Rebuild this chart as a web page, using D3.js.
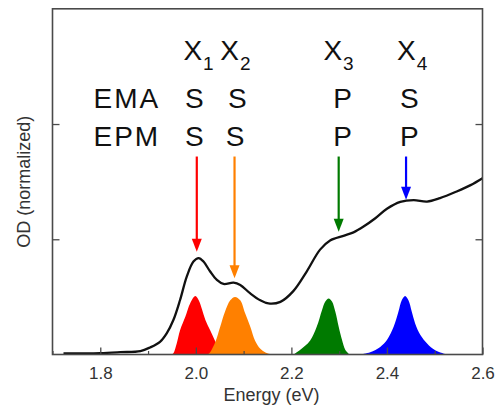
<!DOCTYPE html>
<html>
<head>
<meta charset="utf-8">
<script src="https://cdn.jsdelivr.net/npm/d3@7"></script>
<style>
  html, body { margin: 0; padding: 0; background: #fff; }
  svg { display: block; font-family: "Liberation Sans", Arial, Helvetica, sans-serif; }
</style>
</head>
<body>
<svg id="chart" width="498" height="408"></svg>
<script>
// Absorption spectrum (OD, normalized) vs photon energy
const spectrumE  = [1.723, 1.76, 1.80, 1.842, 1.884, 1.904, 1.925, 1.939, 1.953, 1.967, 1.981, 1.995, 2.006, 2.016, 2.030, 2.044, 2.058, 2.079, 2.093, 2.114, 2.135, 2.152, 2.177, 2.204, 2.232, 2.260, 2.281, 2.309, 2.330, 2.351, 2.375, 2.400, 2.428, 2.456, 2.484, 2.511, 2.546, 2.575, 2.6];
const spectrumOD = [0.010, 0.010, 0.012, 0.020, 0.030, 0.061, 0.110, 0.183, 0.299, 0.473, 0.676, 0.807, 0.837, 0.807, 0.720, 0.647, 0.612, 0.623, 0.603, 0.530, 0.470, 0.443, 0.457, 0.550, 0.720, 0.910, 0.990, 1.030, 1.060, 1.110, 1.180, 1.265, 1.325, 1.340, 1.327, 1.357, 1.415, 1.470, 1.530];

// Exciton transition distributions X1..X4
const x1E  = [1.950, 1.953, 1.960, 1.967, 1.978, 1.988, 1.999, 2.006, 2.013, 2.020, 2.030, 2.041, 2.051];
const x1OD = [0.000, 0.010, 0.096, 0.210, 0.327, 0.443, 0.507, 0.470, 0.390, 0.300, 0.210, 0.110, 0.000];
const x2E  = [2.025, 2.030, 2.041, 2.051, 2.061, 2.072, 2.082, 2.093, 2.103, 2.114, 2.124, 2.135, 2.145, 2.158];
const x2OD = [0.000, 0.020, 0.110, 0.240, 0.370, 0.470, 0.500, 0.470, 0.360, 0.240, 0.120, 0.050, 0.020, 0.000];
const x3E  = [2.204, 2.218, 2.239, 2.253, 2.264, 2.271, 2.278, 2.285, 2.292, 2.299, 2.306, 2.313, 2.322];
const x3OD = [0.000, 0.040, 0.120, 0.240, 0.385, 0.460, 0.487, 0.460, 0.370, 0.240, 0.125, 0.040, 0.000];
const x4E  = [2.344, 2.365, 2.386, 2.400, 2.414, 2.424, 2.431, 2.438, 2.445, 2.452, 2.459, 2.470, 2.484, 2.501, 2.525];
const x4OD = [0.000, 0.020, 0.066, 0.125, 0.240, 0.370, 0.470, 0.507, 0.470, 0.370, 0.270, 0.170, 0.096, 0.037, 0.000];
const excitonColors = ["#ff0000", "#ff8000", "#007a00", "#0000ff"];

// Arrows marking each transition on the spectrum
const arrowE    = [2.002, 2.081, 2.299, 2.440];
const arrowTop  = 1.718;
const arrowTip  = [0.892, 0.661, 1.066, 1.342];

// Labels: exciton names and symmetries from two models
const excitonSub = ["1", "2", "3", "4"];
const nameE      = [1.974, 2.051, 2.267, 2.421];
const emaSym     = ["S", "S", "P", "S"];
const emaE       = [1.997, 2.087, 2.307, 2.447];
const epmSym     = ["S", "S", "P", "P"];
const epmE       = [1.997, 2.082, 2.307, 2.447];

// Axis ticks
const xMajorTicks = [1.8, 2.0, 2.2, 2.4, 2.6];
const xMinorTicks = [1.7, 1.9, 2.1, 2.3, 2.5];
const yTicks = [1, 2];

const svg = d3.select("#chart");
const m = { left: 52.5, right: 482.5, top: 8.8, bottom: 354.5 };

const x = d3.scaleLinear().domain([1.7, 2.6]).range([m.left, m.right]);
const y = d3.scaleLinear().domain([0, 3]).range([m.bottom, m.top]);

const frameColor = "#4a4a4a";
const textColor = "#333";

// Exciton fills
const peaks = [[x1E, x1OD], [x2E, x2OD], [x3E, x3OD], [x4E, x4OD]];
const area = d3.area()
  .x(d => x(d[0])).y0(y(0)).y1(d => y(d[1]))
  .curve(d3.curveCatmullRom.alpha(0.5));
svg.append("g").selectAll("path")
  .data(peaks)
  .join("path")
  .attr("d", p => area(d3.zip(p[0], p[1])))
  .attr("fill", (p, i) => excitonColors[i]);

// Spectrum
const line = d3.line()
  .x(d => x(d[0])).y(d => y(d[1]))
  .curve(d3.curveCatmullRom.alpha(0.5));
svg.append("path")
  .attr("d", line(d3.zip(spectrumE, spectrumOD)))
  .attr("fill", "none")
  .attr("stroke", "#111")
  .attr("stroke-width", 2.3);

// Frame and axes (ticks pointing inward)
const xAxis = d3.axisBottom(x).tickValues(xMajorTicks).tickFormat(d3.format(".1f"))
  .tickSizeInner(-7).tickSizeOuter(0).tickPadding(12);
const gx = svg.append("g").attr("transform", `translate(0,${m.bottom})`).call(xAxis);
gx.select(".domain").remove();
gx.selectAll("line").attr("stroke", frameColor).attr("stroke-width", 1.3);
gx.selectAll("text").attr("font-size", 17).attr("fill", textColor)
  .attr("font-family", "Liberation Sans, Arial, sans-serif");

const xMinor = d3.axisBottom(x).tickValues(xMinorTicks).tickFormat("")
  .tickSizeInner(-3.5).tickSizeOuter(0);
const gxm = svg.append("g").attr("transform", `translate(0,${m.bottom})`).call(xMinor);
gxm.select(".domain").remove();
gxm.selectAll("line").attr("stroke", frameColor).attr("stroke-width", 1.2);

const yLeft = d3.axisLeft(y).tickValues(yTicks).tickFormat("").tickSizeInner(-7).tickSizeOuter(0);
const gyl = svg.append("g").attr("transform", `translate(${m.left},0)`).call(yLeft);
gyl.select(".domain").remove();
gyl.selectAll("line").attr("stroke", frameColor).attr("stroke-width", 1.3);

const yRight = d3.axisRight(y).tickValues(yTicks).tickFormat("").tickSizeInner(-7).tickSizeOuter(0);
const gyr = svg.append("g").attr("transform", `translate(${m.right},0)`).call(yRight);
gyr.select(".domain").remove();
gyr.selectAll("line").attr("stroke", frameColor).attr("stroke-width", 1.3);

svg.append("rect")
  .attr("x", m.left).attr("y", m.top)
  .attr("width", m.right - m.left).attr("height", m.bottom - m.top)
  .attr("fill", "none").attr("stroke", frameColor).attr("stroke-width", 1.6);

// Axis titles
svg.append("text")
  .attr("x", (m.left + m.right) / 2 + 4).attr("y", 401)
  .attr("text-anchor", "middle").attr("font-size", 18).attr("fill", textColor)
  .text("Energy (eV)");
svg.append("text")
  .attr("transform", `translate(30,${(m.top + m.bottom) / 2}) rotate(-90)`)
  .attr("text-anchor", "middle").attr("font-size", 18).attr("fill", textColor)
  .text("OD (normalized)");

// Arrows
const arrows = svg.append("g");
arrowE.forEach((e, i) => {
  const cx = x(e), top = y(arrowTop), tip = y(arrowTip[i]);
  const headLen = 13, headHalf = 5;
  arrows.append("line")
    .attr("x1", cx).attr("x2", cx).attr("y1", top).attr("y2", tip - headLen + 1)
    .attr("stroke", excitonColors[i]).attr("stroke-width", 2.2);
  arrows.append("path")
    .attr("d", `M${cx - headHalf},${tip - headLen} L${cx + headHalf},${tip - headLen} L${cx},${tip} Z`)
    .attr("fill", excitonColors[i]);
});

// Exciton names with subscripts
const names = svg.append("g").attr("font-size", 28).attr("fill", "#111");
nameE.forEach((e, i) => {
  const t = names.append("text").attr("x", x(e)).attr("y", 60);
  t.append("tspan").text("X");
  t.append("tspan").attr("dx", 1).attr("dy", 10).attr("font-size", 19).text(excitonSub[i]);
});

// Symmetry rows
const rows = svg.append("g").attr("font-size", 28).attr("fill", "#111");
rows.append("text").attr("x", 93.5).attr("y", 108).attr("letter-spacing", 2).text("EMA");
rows.append("text").attr("x", 93.5).attr("y", 146).attr("letter-spacing", 2).text("EPM");
emaSym.forEach((s, i) => {
  rows.append("text").attr("x", x(emaE[i])).attr("y", 108).attr("text-anchor", "middle").text(s);
});
epmSym.forEach((s, i) => {
  rows.append("text").attr("x", x(epmE[i])).attr("y", 146).attr("text-anchor", "middle").text(s);
});
</script>
</body>
</html>
